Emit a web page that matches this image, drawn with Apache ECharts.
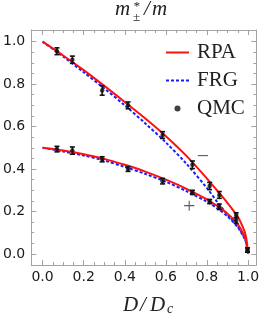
<!DOCTYPE html>
<html><head><meta charset="utf-8">
<script src="https://cdn.jsdelivr.net/npm/echarts@6/dist/echarts.min.js"></script>
<style>html,body{margin:0;padding:0;background:#fff}#c{width:262px;height:314px}</style>
</head><body><div id="c"></div>
<script>
// ---- data ----
const majorTicks = [0, 0.2, 0.4, 0.6, 0.8, 1.0];
const minorTicks = [0.05, 0.1, 0.15, 0.25, 0.3, 0.35, 0.45, 0.5, 0.55, 0.65, 0.7, 0.75, 0.85, 0.9, 0.95];

const curveX     = [0, 0.1, 0.2, 0.3, 0.4, 0.5, 0.6, 0.7, 0.8, 0.85, 0.9, 0.95, 0.98, 0.99, 1.0];
const rpaUpper   = [1.0, 0.935, 0.866, 0.792, 0.716, 0.638, 0.555, 0.462, 0.355, 0.298, 0.24, 0.175, 0.113, 0.08, 0.0];
const rpaLower   = [0.5, 0.487, 0.47, 0.448, 0.42, 0.388, 0.35, 0.307, 0.257, 0.226, 0.19, 0.14, 0.089, 0.063, 0.0];
const frgUpper   = [1.0, 0.93, 0.856, 0.78, 0.70, 0.615, 0.525, 0.425, 0.31, 0.245, 0.185, 0.13, 0.08, 0.055, 0.0];
const frgLower   = [0.5, 0.483, 0.464, 0.44, 0.41, 0.377, 0.34, 0.296, 0.246, 0.215, 0.177, 0.125, 0.078, 0.055, 0.0];

const qmcX       = [0.07, 0.145, 0.29, 0.416, 0.584, 0.729, 0.813, 0.86, 0.942, 0.997];
const qmcUpper   = [0.955, 0.915, 0.77, 0.70, 0.56, 0.42, 0.32, 0.278, 0.183, 0.019];
const qmcUpperErr= [0.016, 0.017, 0.022, 0.016, 0.016, 0.018, 0.017, 0.016, 0.011, 0.01];
const qmcLower   = [0.494, 0.487, 0.446, 0.40, 0.343, 0.29, 0.247, 0.222, 0.157, 0.019];
const qmcLowerErr= [0.013, 0.017, 0.012, 0.011, 0.013, 0.01, 0.01, 0.013, 0.013, 0.01];

const annX = [0.78, 0.713];
const annY = [0.458, 0.218];
const annText = ['\u2212', '+'];

// ---- build ----
const zip = (xs, ys) => xs.map((x, i) => [x, ys[i]]);
const zip3 = (xs, ys, es) => xs.map((x, i) => [x, ys[i], es[i]]);
const GRAY = '#a3a3a3';
const SERIF = '"Liberation Serif","DejaVu Serif",serif';

function xa(pos, ticks, len, showLabel, showLine) {
  return {
    type: 'value', min: -0.055, max: 1.04, position: pos,
    axisLine: {show: showLine, onZero: false, lineStyle: {color: GRAY, width: 1}},
    axisTick: {show: true, inside: true, length: len, customValues: ticks, lineStyle: {color: GRAY, width: 1}},
    axisLabel: {show: showLabel, customValues: majorTicks, formatter: v => v.toFixed(1), margin: 5,
      color: '#1a1a1a', fontFamily: '"DejaVu Sans",sans-serif', fontSize: 14},
    splitLine: {show: false}
  };
}
function ya(pos, ticks, len, showLabel, showLine) {
  return {
    type: 'value', min: -0.052, max: 1.055, position: pos,
    axisLine: {show: showLine, onZero: false, lineStyle: {color: GRAY, width: 1}},
    axisTick: {show: true, inside: true, length: len, customValues: ticks, lineStyle: {color: GRAY, width: 1}},
    axisLabel: {show: showLabel, customValues: majorTicks, formatter: v => v.toFixed(1), margin: 6,
      color: '#1a1a1a', fontFamily: '"DejaVu Sans",sans-serif', fontSize: 14},
    splitLine: {show: false}
  };
}

function errRender(params, api) {
  const x = api.value(0), y = api.value(1), e = api.value(2);
  const p1 = api.coord([x, y - e]), p2 = api.coord([x, y + e]);
  const hw = 2.5;
  const st = {stroke: '#111', lineWidth: 1.6};
  return {type: 'group', children: [
    {type: 'line', shape: {x1: p1[0], y1: p1[1], x2: p2[0], y2: p2[1]}, style: st},
    {type: 'line', shape: {x1: p1[0] - hw, y1: p1[1], x2: p1[0] + hw, y2: p1[1]}, style: st},
    {type: 'line', shape: {x1: p2[0] - hw, y1: p2[1], x2: p2[0] + hw, y2: p2[1]}, style: st}
  ]};
}

const lineBase = (name, data, color, type) => ({
  name, type: 'line', data, symbol: 'none', smooth: 0.3,
  lineStyle: {color, width: 2, type}, itemStyle: {color}, z: 3, animation: false
});

const chart = echarts.init(document.getElementById('c'), null, {renderer: 'canvas'});
chart.setOption({
  animation: false,
  backgroundColor: '#fff',
  grid: {left: 25, top: 30, width: 234, height: 235, containLabel: false},
  xAxis: [
    xa('bottom', majorTicks, 5, true, true),
    xa('bottom', minorTicks, 3, false, false),
    xa('top', majorTicks, 5, false, true),
    xa('top', minorTicks, 3, false, false)
  ],
  yAxis: [
    ya('left', majorTicks, 5, true, true),
    ya('left', minorTicks, 3, false, false),
    ya('right', majorTicks, 5, false, true),
    ya('right', minorTicks, 3, false, false)
  ],
  legend: {
    orient: 'vertical', left: 160, top: 37, itemWidth: 23, itemHeight: 6, itemGap: 7,
    data: [
      {name: 'RPA', itemStyle: {color: 'rgba(0,0,0,0)', borderWidth: 0}},
      {name: 'FRG', itemStyle: {color: 'rgba(0,0,0,0)', borderWidth: 0}},
      {name: 'QMC'}
    ],
    textStyle: {fontFamily: SERIF, fontSize: 21, color: '#222', padding: [0, 0, 0, 3], lineHeight: 20}
  },
  series: [
    lineBase('FRG', zip(curveX, frgUpper), '#1a1aff', [3, 2]),
    lineBase('FRG', zip(curveX, frgLower), '#1a1aff', [3, 2]),
    lineBase('RPA', zip(curveX, rpaUpper), '#ff1010', 'solid'),
    lineBase('RPA', zip(curveX, rpaLower), '#ff1010', 'solid'),
    {name: 'err', type: 'custom', renderItem: errRender, data: zip3(qmcX, qmcUpper, qmcUpperErr), z: 5, silent: true},
    {name: 'err', type: 'custom', renderItem: errRender, data: zip3(qmcX, qmcLower, qmcLowerErr), z: 5, silent: true},
    {name: 'QMC', type: 'scatter', data: zip(qmcX, qmcUpper), symbol: 'circle', symbolSize: 4.5, itemStyle: {color: '#111'}, z: 6},
    {name: 'QMC', type: 'scatter', data: zip(qmcX, qmcLower), symbol: 'circle', symbolSize: 4.5, itemStyle: {color: '#111'}, z: 6},
    {name: 'ann', type: 'scatter', symbolSize: 0, z: 7,
      data: annX.map((x, i) => ({value: [x, annY[i]], name: annText[i]})),
      label: {show: true, position: 'inside', formatter: p => p.name, fontFamily: SERIF, fontSize: 22, color: '#333'}}
  ],
  graphic: [
    {type: 'text', x: 115, y: 9, style: {text: 'm', font: 'italic 21px ' + SERIF, fill: '#222', verticalAlign: 'middle'}},
    {type: 'text', x: 133, y: 7, style: {text: '*', font: 'italic 13px ' + SERIF, fill: '#222', verticalAlign: 'middle'}},
    {type: 'text', x: 133, y: 18, style: {text: '\u00b1', font: '13px ' + SERIF, fill: '#222', verticalAlign: 'middle'}},
    {type: 'text', x: 144, y: 9, style: {text: '/', font: 'italic 21px ' + SERIF, fill: '#222', verticalAlign: 'middle'}},
    {type: 'text', x: 152, y: 9, style: {text: 'm', font: 'italic 21px ' + SERIF, fill: '#222', verticalAlign: 'middle'}},
    {type: 'text', x: 123, y: 305, style: {text: 'D', font: 'italic 21px ' + SERIF, fill: '#222', verticalAlign: 'middle'}},
    {type: 'text', x: 140, y: 305, style: {text: '/', font: 'italic 21px ' + SERIF, fill: '#222', verticalAlign: 'middle'}},
    {type: 'text', x: 150, y: 305, style: {text: 'D', font: 'italic 21px ' + SERIF, fill: '#222', verticalAlign: 'middle'}},
    {type: 'text', x: 167, y: 309, style: {text: 'c', font: 'italic 14px ' + SERIF, fill: '#222', verticalAlign: 'middle'}}
  ]
});
</script></body></html>
